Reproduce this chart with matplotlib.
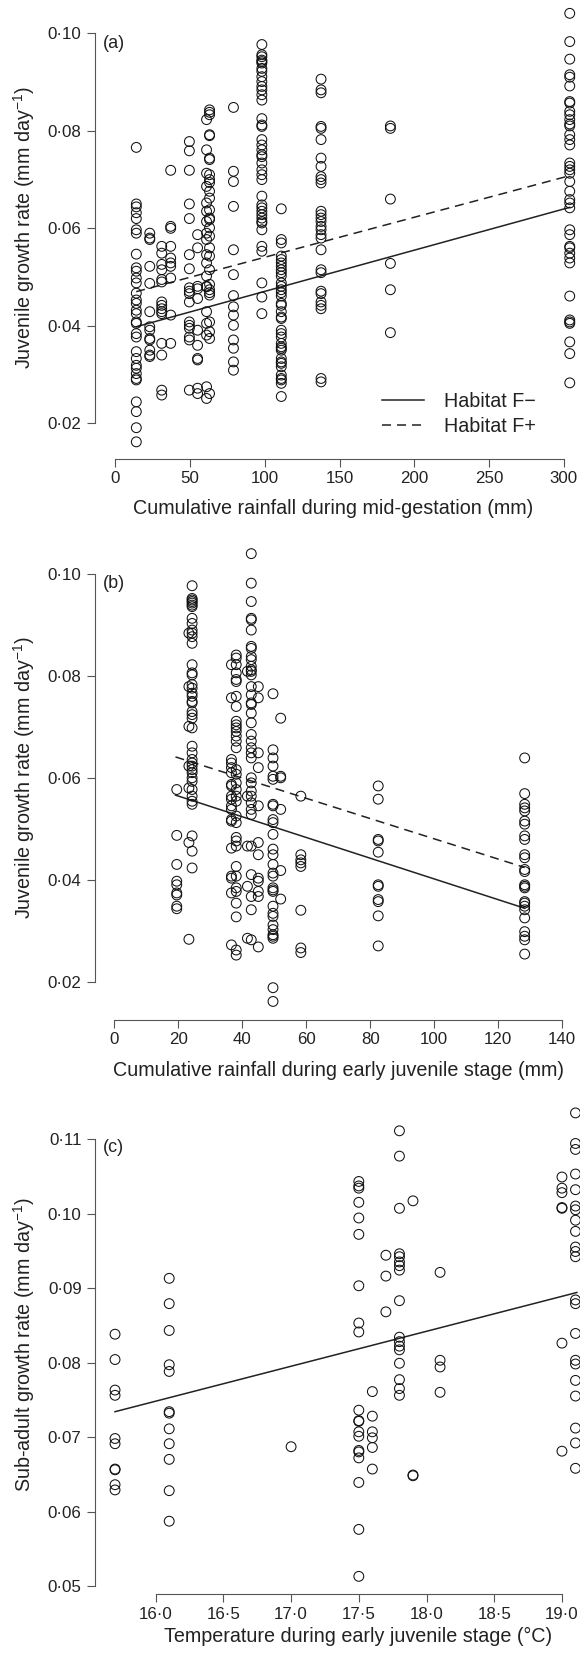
import matplotlib
matplotlib.use("Agg")
import matplotlib.pyplot as plt
from matplotlib.lines import Line2D
from matplotlib.ticker import FuncFormatter

plt.rcParams['font.family'] = ['Liberation Sans', 'DejaVu Sans']
plt.rcParams['mathtext.fontset'] = 'custom'
plt.rcParams['mathtext.rm'] = 'Liberation Sans'
plt.rcParams['lines.scale_dashes'] = False

# ---- panel (a): rainfall during mid-gestation ----
a_x = [14, 23, 31, 37, 49.5, 55, 61, 63, 79, 98, 111, 137.6, 184, 304]
a_y = [
    [0.0766, 0.065, 0.0644, 0.0632, 0.062, 0.0597, 0.059, 0.0547, 0.0519, 0.0512, 0.0498, 0.0488, 0.0467,
     0.0453, 0.0446, 0.0432, 0.0425, 0.0408, 0.0405, 0.0384, 0.0377, 0.0347, 0.0333, 0.0319, 0.0313, 0.0302,
     0.0292, 0.0289, 0.0244, 0.0224, 0.0191, 0.0162],
    [0.059, 0.058, 0.0577, 0.0522, 0.0487, 0.0429, 0.0398, 0.0391, 0.0374, 0.0371, 0.035, 0.034, 0.0337],
    [0.0563, 0.0549, 0.0526, 0.0515, 0.0495, 0.049, 0.0449, 0.0442, 0.0435, 0.0429, 0.0425, 0.0364, 0.034,
     0.0268, 0.0258],
    [0.0719, 0.0604, 0.06, 0.0563, 0.0539, 0.0529, 0.0522, 0.0498, 0.0422, 0.0364],
    [0.0778, 0.0759, 0.0719, 0.065, 0.062, 0.0546, 0.0517, 0.0478, 0.0471, 0.0466, 0.0449, 0.0408, 0.0401,
     0.0395, 0.0377, 0.0371, 0.0268],
    [0.0587, 0.056, 0.0481, 0.0476, 0.0456, 0.0391, 0.036, 0.0333, 0.033, 0.0272, 0.0261],
    [0.0823, 0.0761, 0.0713, 0.0686, 0.0652, 0.0635, 0.0614, 0.059, 0.0577, 0.0546, 0.0529, 0.0502, 0.0481,
     0.048, 0.0429, 0.0405, 0.0381, 0.0275, 0.0251],
    [0.0843, 0.0838, 0.0833, 0.0792, 0.079, 0.0744, 0.0741, 0.071, 0.07, 0.0694, 0.0676, 0.0662, 0.0638,
     0.0621, 0.0618, 0.0601, 0.0584, 0.056, 0.0543, 0.0515, 0.0485, 0.0474, 0.0468, 0.0463, 0.0408, 0.0388,
     0.0374, 0.0261],
    [0.0848, 0.0717, 0.0696, 0.0645, 0.0556, 0.0505, 0.0462, 0.0439, 0.0422, 0.0401, 0.0371, 0.0354, 0.0326,
     0.0309],
    [0.0977, 0.0956, 0.0952, 0.0945, 0.0942, 0.0939, 0.0928, 0.0922, 0.0911, 0.0901, 0.0891, 0.0884, 0.0874,
     0.0863, 0.0825, 0.0812, 0.0809, 0.0782, 0.0771, 0.0761, 0.0751, 0.0747, 0.0734, 0.072, 0.071, 0.07,
     0.0666, 0.0648, 0.0642, 0.0635, 0.0628, 0.0621, 0.0614, 0.0611, 0.0597, 0.0563, 0.0553, 0.0488, 0.0459,
     0.0425],
    [0.064, 0.0577, 0.057, 0.0543, 0.0536, 0.0529, 0.0522, 0.0515, 0.0509, 0.0502, 0.0488, 0.0481, 0.0474,
     0.0468, 0.0461, 0.0446, 0.0442, 0.0429, 0.0418, 0.0415, 0.0391, 0.0384, 0.0377, 0.0364, 0.0357, 0.0354,
     0.035, 0.0333, 0.0326, 0.0323, 0.0316, 0.0299, 0.0292, 0.0289, 0.0282, 0.0255],
    [0.0906, 0.0884, 0.0878, 0.0809, 0.0805, 0.0782, 0.0744, 0.0727, 0.0706, 0.07, 0.0693, 0.0635, 0.0628,
     0.0621, 0.0614, 0.0604, 0.0597, 0.0587, 0.058, 0.0556, 0.0515, 0.0509, 0.0471, 0.0466, 0.0449, 0.0442,
     0.0435, 0.0292, 0.0285],
    [0.081, 0.0805, 0.066, 0.0528, 0.0474, 0.0386],
    [0.1041, 0.0983, 0.0947, 0.0915, 0.091, 0.0892, 0.086, 0.0857, 0.084, 0.0833, 0.0823, 0.0814, 0.081,
     0.0792, 0.0782, 0.0771, 0.0734, 0.0727, 0.072, 0.0713, 0.0696, 0.0676, 0.0659, 0.0652, 0.0642, 0.0597,
     0.0587, 0.0563, 0.056, 0.0549, 0.0539, 0.0529, 0.0461, 0.0412, 0.0408, 0.0405, 0.0367, 0.0343, 0.0283],
]
a_fit_x = [13.9, 304]
a_fit_fminus = [0.0398, 0.0643]
a_fit_fplus = [0.047, 0.0708]

# ---- panel (b): rainfall during early juvenile stage ----
b_x = [19.5, 23.3, 24.3, 36.6, 38.1, 41.6, 42.8, 45, 49.6, 52, 58.3, 82.5, 128.3]
b_y = [
    [0.0577, 0.0487, 0.043, 0.0397, 0.039, 0.0374, 0.037, 0.0348, 0.0343],
    [0.0884, 0.0779, 0.0701, 0.0623, 0.058, 0.0473, 0.0283],
    [0.0977, 0.0952, 0.0949, 0.0946, 0.0943, 0.0939, 0.0936, 0.0913, 0.0903, 0.089, 0.0884, 0.0877, 0.0864,
     0.0822, 0.0806, 0.0802, 0.0783, 0.0776, 0.0766, 0.076, 0.075, 0.0747, 0.073, 0.0724, 0.0717, 0.0698,
     0.0662, 0.0649, 0.0636, 0.0629, 0.0623, 0.0616, 0.061, 0.06, 0.0593, 0.0577, 0.0564, 0.0554, 0.0548,
     0.0486, 0.0456, 0.0423],
    [0.0822, 0.0757, 0.0636, 0.0629, 0.062, 0.061, 0.0587, 0.0584, 0.0564, 0.0558, 0.0545, 0.0538, 0.0518,
     0.0515, 0.0462, 0.0407, 0.0403, 0.0374, 0.0272],
    [0.0841, 0.0835, 0.0822, 0.0806, 0.0793, 0.0789, 0.076, 0.074, 0.0711, 0.0704, 0.0698, 0.0691, 0.0682,
     0.0672, 0.0659, 0.0616, 0.0607, 0.059, 0.0577, 0.0564, 0.0554, 0.0525, 0.0512, 0.0483, 0.0476, 0.0466,
     0.0426, 0.0407, 0.0384, 0.0377, 0.0354, 0.0327, 0.0262, 0.0252],
    [0.0809, 0.0564, 0.0466, 0.0387, 0.0285],
    [0.104, 0.0982, 0.0946, 0.0913, 0.091, 0.089, 0.0858, 0.0854, 0.0838, 0.0832, 0.0819, 0.0812, 0.0809,
     0.0802, 0.0779, 0.0763, 0.0747, 0.0744, 0.0727, 0.0708, 0.0685, 0.0672, 0.0659, 0.0649, 0.0639, 0.06,
     0.059, 0.0574, 0.0564, 0.0551, 0.0538, 0.0528, 0.0466, 0.041, 0.0367, 0.0341, 0.0282],
    [0.0779, 0.0757, 0.0649, 0.062, 0.0545, 0.0473, 0.0449, 0.0403, 0.0397, 0.0377, 0.0367, 0.0268],
    [0.0765, 0.0655, 0.0639, 0.0623, 0.0603, 0.0597, 0.0548, 0.0545, 0.0518, 0.0512, 0.0489, 0.046, 0.0449,
     0.043, 0.0413, 0.0407, 0.0384, 0.038, 0.0377, 0.0348, 0.0334, 0.0328, 0.0311, 0.0302, 0.0292, 0.0289,
     0.0285, 0.0188, 0.0161],
    [0.0717, 0.0603, 0.06, 0.0538, 0.0418, 0.0362],
    [0.0564, 0.0449, 0.0439, 0.0433, 0.0426, 0.034, 0.0266, 0.0257],
    [0.0584, 0.0558, 0.0479, 0.0476, 0.0454, 0.039, 0.0387, 0.0361, 0.0357, 0.0329, 0.027],
    [0.0639, 0.0569, 0.0548, 0.0541, 0.0535, 0.0515, 0.0509, 0.0486, 0.0479, 0.0449, 0.0443, 0.042, 0.0416,
     0.039, 0.0387, 0.0384, 0.0357, 0.0354, 0.0348, 0.0341, 0.0325, 0.0298, 0.0289, 0.0282, 0.0254],
]
b_fit_x = [19.1, 128.3]
b_fit_fminus = [0.0566, 0.0344]
b_fit_fplus = [0.0641, 0.0424]

# ---- panel (c): temperature during early juvenile stage ----
c_x = [15.7, 16.1, 17.0, 17.5, 17.6, 17.7, 17.8, 17.9, 18.1, 19.0, 19.1]
c_y = [
    [0.0838, 0.0804, 0.0763, 0.0756, 0.0698, 0.0691, 0.0657, 0.0656, 0.0636, 0.0629],
    [0.0913, 0.0879, 0.0843, 0.0797, 0.0788, 0.0734, 0.0732, 0.0711, 0.0691, 0.067, 0.0628, 0.0587],
    [0.0687],
    [0.1043, 0.1037, 0.1034, 0.1015, 0.0994, 0.0972, 0.0903, 0.0853, 0.0841, 0.0736, 0.0722, 0.0721, 0.0707,
     0.0701, 0.0682, 0.068, 0.0672, 0.0639, 0.0576, 0.0513],
    [0.0761, 0.0728, 0.0707, 0.0699, 0.0686, 0.0657],
    [0.0944, 0.0916, 0.0868],
    [0.1111, 0.1077, 0.1007, 0.0946, 0.0942, 0.0935, 0.093, 0.0924, 0.0883, 0.0834, 0.0828, 0.0822, 0.0817,
     0.0799, 0.0777, 0.0765, 0.0756],
    [0.1017, 0.0649, 0.0648],
    [0.0921, 0.0803, 0.0794, 0.076],
    [0.1049, 0.1034, 0.1028, 0.1008, 0.1007, 0.0826, 0.0681],
    [0.1135, 0.1094, 0.1086, 0.1053, 0.1032, 0.101, 0.1005, 0.0991, 0.0976, 0.0955, 0.0949, 0.0942, 0.0884,
     0.0879, 0.0839, 0.0803, 0.0798, 0.0776, 0.0755, 0.0712, 0.0692, 0.0658],
]
c_fit_x = [15.7, 19.11]
c_fit_y = [0.0734, 0.0894]

W, H = 580, 1654
fig = plt.figure(figsize=(W / 100, H / 100), dpi=100)
TICK_FS = 12.2
LAB_FS = 14.2
AXC = '#555555'
TXT = '#222222'


def make_ax(left, top, right, bottom, xlim, ylim):
    ax = fig.add_axes([left / W, 1 - bottom / H, (right - left) / W, (bottom - top) / H])
    ax.set_xlim(xlim)
    ax.set_ylim(ylim)
    ax.patch.set_alpha(0)
    for s in ['top', 'right']:
        ax.spines[s].set_visible(False)
    for s in ['left', 'bottom']:
        ax.spines[s].set_color(AXC)
        ax.spines[s].set_linewidth(0.8)
    ax.tick_params(direction='out', length=5.8, width=0.8, color=AXC, labelsize=TICK_FS,
                   labelcolor=TXT)
    ax.tick_params(axis='y', pad=4.2)
    ax.tick_params(axis='x', pad=3.0)
    return ax


def place_labels(ax, xlab, ylab, xlab_px, ylab_px):
    # label centres given in figure pixels (from the top)
    ax.set_xlabel(xlab, fontsize=LAB_FS, color=TXT)
    ax.set_ylabel(ylab, fontsize=LAB_FS, color=TXT)
    ax.xaxis.set_label_coords(xlab_px[0] / W, 1 - xlab_px[1] / H, transform=fig.transFigure)
    ax.yaxis.set_label_coords(ylab_px[0] / W, 1 - ylab_px[1] / H, transform=fig.transFigure)
    ax.xaxis.label.set_va('center')
    ax.yaxis.label.set_va('center')


def dot_fmt(nd):
    return FuncFormatter(lambda v, p: f"{v:.{nd}f}".replace('.', '\u00b7'))


def scatter_cols(ax, xs, ys):
    for x, col in zip(xs, ys):
        ax.scatter([x] * len(col), col, s=50, facecolors='none', edgecolors='#111111',
                   linewidths=0.75, clip_on=False, zorder=3)


dash = (0, (6.5, 4.3))
ylab_juv = 'Juvenile growth rate (mm day$\\mathregular{^{-1}}$)'

# (a)
ax = make_ax(95.4, -3, 582, 459, (-13.37, 312.2), (0.01268, 0.10745))
scatter_cols(ax, a_x, a_y)
ax.plot(a_fit_x, a_fit_fminus, color='#222222', lw=1.1)
ax.plot(a_fit_x, a_fit_fplus, color='#222222', lw=1.1, ls=dash)
ax.spines['left'].set_bounds(0.02, 0.10)
ax.spines['bottom'].set_bounds(0, 300)
ax.set_yticks([0.02, 0.04, 0.06, 0.08, 0.10])
ax.set_xticks([0, 50, 100, 150, 200, 250, 300])
ax.yaxis.set_major_formatter(dot_fmt(2))
place_labels(ax, 'Cumulative rainfall during mid-gestation (mm)', ylab_juv, (333.5, 508.7), (24, 228))
ax.text(103, H - 43, '(a)', transform=None, fontsize=13, color=TXT, va='center')
handles = [Line2D([], [], color='#222222', lw=1.1),
           Line2D([], [], color='#222222', lw=1.1, ls=dash)]
ax.legend(handles, ['Habitat F\u2212', 'Habitat F+'], loc='center left', frameon=False,
          bbox_to_anchor=(382 / W, 1 - 414 / H), bbox_transform=fig.transFigure,
          fontsize=LAB_FS, handlelength=2.15, handletextpad=0.98, labelspacing=0.3, borderpad=0,
          borderaxespad=0, labelcolor=TXT)

# (b)
ax = make_ax(95.4, 535.3, 580, 1020, (-5.94, 145.6), (0.01246, 0.1076))
scatter_cols(ax, b_x, b_y)
ax.plot(b_fit_x, b_fit_fminus, color='#222222', lw=1.1)
ax.plot(b_fit_x, b_fit_fplus, color='#222222', lw=1.1, ls=dash)
ax.spines['left'].set_bounds(0.02, 0.10)
ax.spines['bottom'].set_bounds(0, 140)
ax.set_yticks([0.02, 0.04, 0.06, 0.08, 0.10])
ax.set_xticks([0, 20, 40, 60, 80, 100, 120, 140])
ax.yaxis.set_major_formatter(dot_fmt(2))
place_labels(ax, 'Cumulative rainfall during early juvenile stage (mm)', ylab_juv, (338.7, 1070), (24, 777.7))
ax.text(103, H - 584, '(b)', transform=None, fontsize=13, color=TXT, va='center')

# (c)
ax = make_ax(95.4, 1094.3, 595, 1594.3, (15.555, 19.244), (0.04889, 0.116))
scatter_cols(ax, c_x, c_y)
ax.plot(c_fit_x, c_fit_y, color='#222222', lw=1.1)
ax.spines['left'].set_bounds(0.05, 0.11)
ax.spines['bottom'].set_bounds(16.0, 19.0)
ax.set_yticks([0.05, 0.06, 0.07, 0.08, 0.09, 0.10, 0.11])
ax.set_xticks([16.0, 16.5, 17.0, 17.5, 18.0, 18.5, 19.0])
ax.yaxis.set_major_formatter(dot_fmt(2))
ax.xaxis.set_major_formatter(dot_fmt(1))
place_labels(ax, 'Temperature during early juvenile stage (\u00b0C)',
             'Sub-adult growth rate (mm day$\\mathregular{^{-1}}$)', (358, 1636.7), (24, 1344.3))
ax.text(103, H - 1148, '(c)', transform=None, fontsize=13, color=TXT, va='center')

fig.savefig('out.png', dpi=100)
